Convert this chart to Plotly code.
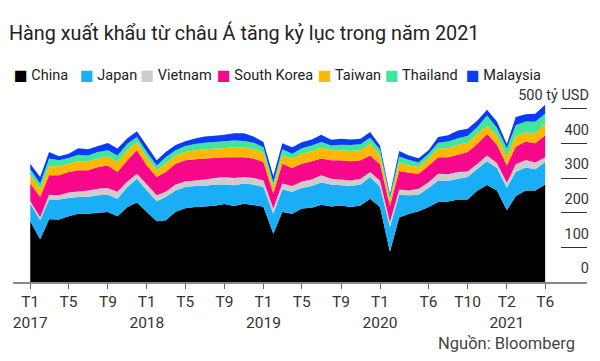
import plotly.graph_objects as go

months = [f"{2017 + i // 12}-{i % 12 + 1:02d}-01" for i in range(54)]

china = [175, 123, 181, 180, 190, 197, 197, 200, 202, 190, 216, 229,
         202, 175, 178, 203, 213, 216, 218, 220, 225, 219, 226, 222,
         217, 139, 202, 197, 212, 214, 223, 218, 221, 216, 221, 240,
         216, 87, 186, 197, 204, 216, 231, 232, 238, 238, 264, 280,
         264, 207, 248, 264, 264, 281]
japan = [51, 55, 57, 58, 52, 48, 48, 50, 50, 50, 58, 69,
         62, 58, 67, 61, 61, 61, 59, 61, 56, 60, 58, 59,
         57, 58, 65, 63, 59, 63, 64, 63, 58, 61, 60, 63,
         59, 72, 66, 53, 48, 55, 62, 60, 60, 65, 63, 68,
         65, 65, 70, 66, 61, 65]
vietnam = [8, 9, 14, 12, 16, 16, 19, 19, 19, 20, 16, 14,
           17, 17, 15, 17, 16, 16, 19, 19, 22, 21, 19, 19,
           19, 15, 17, 17, 19, 19, 21, 17, 17, 16, 17, 14,
           17, 14, 15, 14, 17, 17, 19, 19, 19, 16, 14, 17,
           14, 14, 22, 22, 20, 14]
korea = [50, 58, 56, 58, 59, 61, 58, 63, 65, 57, 61, 68,
         55, 53, 57, 60, 61, 61, 60, 58, 57, 60, 57, 56,
         53, 43, 57, 52, 51, 52, 48, 53, 55, 55, 53, 48,
         48, 46, 53, 51, 43, 47, 48, 49, 50, 56, 58, 62,
         53, 50, 50, 53, 55, 63]
taiwan = [26, 24, 26, 26, 24, 26, 26, 24, 26, 29, 29, 24,
          24, 19, 24, 24, 24, 26, 27, 27, 26, 29, 29, 28,
          27, 19, 24, 27, 29, 29, 31, 29, 29, 30, 29, 34,
          25, 16, 25, 21, 20, 22, 25, 26, 29, 27, 29, 23,
          27, 26, 32, 26, 30, 34]
thailand = [15, 15, 22, 17, 17, 19, 17, 19, 18, 19, 19, 14,
            15, 14, 19, 15, 17, 18, 19, 19, 20, 19, 18, 18,
            16, 13, 18, 14, 16, 17, 17, 14, 16, 17, 17, 17,
            17, 11, 17, 16, 13, 13, 17, 19, 19, 19, 19, 30,
            22, 24, 30, 32, 32, 28]
malaysia = [16, 19, 19, 12, 12, 19, 18, 17, 21, 20, 16, 17,
            18, 15, 15, 15, 14, 16, 18, 18, 19, 21, 22, 18,
            15, 19, 17, 19, 17, 17, 21, 16, 17, 16, 16, 17,
            12, 7, 16, 13, 12, 10, 16, 18, 22, 21, 19, 17,
            18, 12, 24, 21, 23, 26]

series_names = ["China", "Japan", "Vietnam", "South Korea", "Taiwan", "Thailand", "Malaysia"]
series_values = [china, japan, vietnam, korea, taiwan, thailand, malaysia]
colors = ["#000000", "#19aef5", "#cdcdcd", "#f7088b", "#ffb800", "#3fe69c", "#0a3cf5"]

tick_months = ["2017-01-01", "2017-05-01", "2017-09-01", "2018-01-01", "2018-05-01",
               "2018-09-01", "2019-01-01", "2019-05-01", "2019-09-01", "2020-01-01",
               "2020-06-01", "2020-10-01", "2021-02-01", "2021-06-01"]
tick_labels = ["T1<br>2017", "T5", "T9", "T1<br>2018", "T5", "T9", "T1<br>2019",
               "T5", "T9", "T1<br>2020", "T6", "T10", "T2<br>2021", "T6"]

y_ticks = [0, 100, 200, 300, 400, 500]
y_labels = ["0", "100", "200", "300", "400", "500 tỷ USD"]

# The page body adds an 8px offset, so the figure is sized to fit inside it.
W, H = 584, 345
plot_left, plot_w, plot_bottom, plot_h = 5, 574, 273.7, 182
# legend entry left edges (px, figure coordinates)
legend_px = [-34, 32, 92.5, 169, 270, 337, 418]

fig = go.Figure()
for name, vals, col in zip(series_names, series_values, colors):
    fig.add_trace(go.Scatter(
        x=months, y=vals, name=name, stackgroup="one", mode="none",
        fillcolor=col, showlegend=False, hoverinfo="x+y+name"))

for i, (name, col) in enumerate(zip(series_names, colors)):
    lg = "legend" if i == 0 else f"legend{i + 1}"
    fig.add_trace(go.Scatter(
        x=[None], y=[None], mode="markers", legend=lg,
        name=f'<span style="color:{col}">■</span> {name}',
        marker=dict(symbol="square", size=1, color="rgba(0,0,0,0)")))
    fig.update_layout(**{lg: dict(
        xref="paper", yref="container",
        x=(legend_px[i] - plot_left) / plot_w, xanchor="left",
        y=1 - 66 / H, yanchor="middle", orientation="h",
        bgcolor="rgba(0,0,0,0)", borderwidth=0,
        font=dict(family="Roboto, DejaVu Sans", size=14.5, color="#222"))})

fig.update_layout(
    width=W, height=H,
    margin=dict(l=5, r=5, t=91.7, b=71.3, autoexpand=False),
    paper_bgcolor="white", plot_bgcolor="white",
    title=dict(text="Hàng xuất khẩu từ châu Á tăng kỷ lục trong năm 2021",
               x=1 / W, xanchor="left", xref="container",
               y=1 - 25 / H, yanchor="middle", yref="container",
               font=dict(family="Roboto", size=19.8, color="#222")),
    xaxis=dict(range=["2016-11-08", "2021-10-10"], tickvals=tick_months,
               ticktext=tick_labels, showgrid=False, zeroline=False,
               showline=True, linecolor="#8a8a8a", linewidth=1.5,
               ticks="outside", ticklen=5, tickcolor="#666", tickwidth=1,
               automargin=False,
               tickfont=dict(family="Roboto", size=15.5, color="#333")),
    yaxis=dict(range=[0, 525], side="right", tickvals=y_ticks, ticktext=y_labels,
               showgrid=False, zeroline=False, showline=False,
               ticks="inside", ticklen=26, tickcolor="#333", tickwidth=1.3,
               ticklabelposition="inside top", ticklabeloverflow="allow",
               ticklabelshift=-3, ticklabelstandoff=-5, automargin=False,
               tickfont=dict(family="Roboto", size=14.5, color="#333")),
    annotations=[dict(text="Nguồn: Bloomberg", xref="paper", yref="paper",
                      x=(569 - plot_left) / plot_w, y=-(335 - plot_bottom) / plot_h,
                      xanchor="right", yanchor="middle", showarrow=False,
                      font=dict(family="Roboto", size=16.5, color="#444"))],
)

fig.write_html("out.html")
